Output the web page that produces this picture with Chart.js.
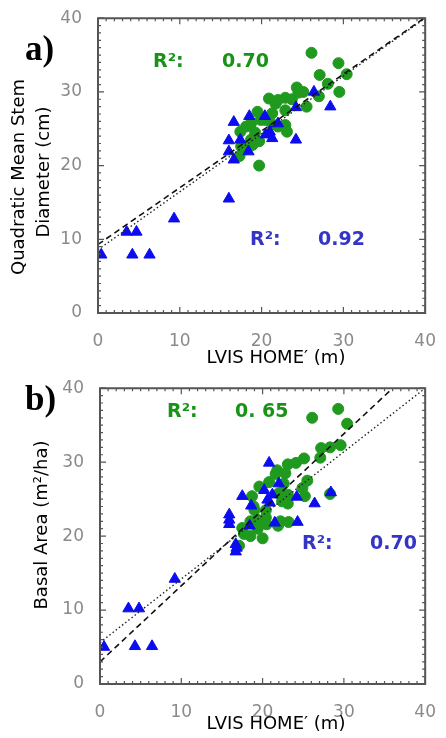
<!DOCTYPE html>
<html>
<head>
<meta charset="utf-8">
<script src="https://cdn.jsdelivr.net/npm/chart.js@4.4.0/dist/chart.umd.min.js"></script>
<style>
  body { margin: 0; background: #fff; }
  .panel { position: absolute; left: 0; width: 446px; }
</style>
</head>
<body>
<div class="panel" style="top:0;height:370px"><canvas id="chartA" width="446" height="370"></canvas></div>
<div class="panel" style="top:370px;height:368px"><canvas id="chartB" width="446" height="368"></canvas></div>
<script>
// panel a) quadratic mean stem diameter vs LVIS HOME'
const aBlueX = [0.4, 3.5, 4.7, 4.2, 6.3, 9.3, 16.0, 16.0, 16.0, 16.6, 16.6, 17.4, 18.5, 18.4, 20.4, 20.5, 21.0, 21.3, 22.0, 24.2, 24.2, 26.4, 28.4];
const aBlueY = [7.9, 11.0, 11.0, 7.9, 7.9, 12.8, 15.5, 23.4, 21.9, 25.9, 20.8, 23.5, 26.7, 21.9, 26.7, 24.2, 24.6, 23.7, 25.7, 27.9, 23.5, 30.0, 28.0];
const aGreenX = [26.1, 29.4, 27.1, 30.4, 28.1, 29.5, 27.0, 24.3, 25.1, 25.5, 22.9, 20.9, 21.7, 22.0, 22.9, 21.3, 19.5, 19.9, 18.7, 18.1, 17.4, 19.2, 22.0, 22.9, 23.1, 18.7, 19.7, 18.9, 17.5, 18.1, 17.3, 19.7, 21.3, 20.4, 23.7, 24.5];
const aGreenY = [35.3, 33.9, 32.3, 32.4, 31.1, 30.0, 29.4, 30.6, 30.0, 28.0, 29.2, 29.1, 28.4, 28.9, 27.5, 27.1, 27.3, 26.2, 25.7, 25.3, 24.6, 24.5, 25.3, 25.5, 24.6, 23.5, 23.3, 22.8, 22.6, 22.3, 21.3, 20.0, 25.6, 26.2, 29.0, 29.9];
const aDashX = [0, 40], aDashY = [9.3, 40.1];
const aDotX = [0, 40], aDotY = [8.6, 40.0];

// panel b) basal area vs LVIS HOME'
const bBlueX = [0.5, 3.5, 4.8, 4.3, 6.4, 9.2, 15.9, 15.9, 15.9, 16.7, 16.7, 16.8, 17.5, 18.6, 18.4, 20.8, 20.2, 20.6, 21.2, 20.9, 22.0, 21.5, 24.3, 24.2, 26.4, 28.4];
const bBlueY = [5.0, 10.2, 10.2, 5.1, 5.1, 14.2, 22.9, 22.2, 21.6, 18.9, 17.9, 18.4, 25.4, 24.1, 21.4, 29.9, 26.2, 24.9, 25.6, 24.5, 27.1, 21.8, 21.9, 25.3, 24.4, 25.9];
const bGreenX = [29.3, 26.1, 30.4, 29.6, 28.3, 27.2, 27.1, 25.1, 24.1, 23.1, 21.8, 21.6, 22.8, 20.8, 19.6, 22.6, 25.5, 24.9, 25.2, 22.0, 23.1, 22.4, 23.1, 18.7, 18.9, 18.5, 19.4, 20.4, 20.5, 22.2, 21.9, 23.2, 19.4, 17.5, 17.7, 18.5, 20.0, 17.1, 19.0, 20.4, 28.3];
const bGreenY = [37.2, 36.0, 35.2, 32.3, 32.0, 31.9, 30.6, 30.5, 29.9, 29.7, 28.9, 28.4, 28.5, 27.3, 26.7, 27.1, 27.5, 26.5, 25.4, 25.8, 25.6, 24.7, 24.4, 25.4, 24.0, 22.0, 22.2, 22.5, 21.6, 22.0, 21.4, 21.9, 21.0, 21.1, 20.3, 20.0, 19.7, 18.7, 23.5, 23.5, 25.7];
const bDashX = [0, 36], bDashY = [3.0, 40.0];
const bDotX = [0, 40], bDotY = [5.6, 40.0];

const axisMin = 0, axisMax = 40, axisStep = 10;

const BLUE = '#0c0cf0';
const GREEN = '#1f9a1f';
const BLUE_TXT = '#3434c8';
const GREEN_TXT = '#189318';

function pts(xs, ys) {
  return xs.map((x, i) => ({ x: x, y: ys[i] }));
}

// box with inward ticks on all four sides, then the free text
function decorPlugin(items) {
  return {
    id: 'decor',
    afterDraw(chart) {
      const ctx = chart.ctx;
      const sx = chart.scales.x, sy = chart.scales.y;
      const left = sx.left, right = sx.right;
      const top = sy.top, bottom = sy.bottom;
      ctx.save();
      ctx.setLineDash([]);
      ctx.globalAlpha = 1;
      ctx.strokeStyle = '#555';
      ctx.lineWidth = 1.2;
      for (let v = axisMin; v <= axisMax; v++) {
        const len = v % axisStep === 0 ? 6 : 3;
        const px = sx.getPixelForValue(v);
        const py = sy.getPixelForValue(v);
        ctx.beginPath();
        ctx.moveTo(px, bottom); ctx.lineTo(px, bottom - len);
        ctx.moveTo(px, top); ctx.lineTo(px, top + len);
        ctx.moveTo(left, py); ctx.lineTo(left + len, py);
        ctx.moveTo(right, py); ctx.lineTo(right - len, py);
        ctx.stroke();
      }
      ctx.lineWidth = 2;
      ctx.beginPath();
      ctx.rect(left, top, right - left, bottom - top);
      ctx.stroke();
      ctx.restore();

      items.forEach(it => {
        ctx.save();
        ctx.translate(it.x, it.y);
        if (it.rot) ctx.rotate(it.rot);
        ctx.font = it.font;
        ctx.fillStyle = it.color;
        ctx.textAlign = it.align || 'left';
        ctx.textBaseline = it.base || 'alphabetic';
        ctx.fillText(it.text, 0, 0);
        ctx.restore();
      });
    }
  };
}

function makeChart(id, d, box, notes) {
  const tickFont = { family: 'DejaVu Sans', size: 17 };
  return new Chart(document.getElementById(id), {
    type: 'scatter',
    data: {
      datasets: [
        { data: pts(d.dashX, d.dashY), showLine: true, pointRadius: 0,
          borderColor: '#111', borderWidth: 1.6, borderDash: [6, 4] },
        { data: pts(d.dotX, d.dotY), showLine: true, pointRadius: 0,
          borderColor: '#222', borderWidth: 1.4, borderDash: [1.5, 2.5] },
        { data: pts(d.blueX, d.blueY), pointStyle: 'triangle', pointRadius: 6.5,
          backgroundColor: BLUE, borderColor: BLUE, borderWidth: 1 },
        { data: pts(d.greenX, d.greenY), pointStyle: 'circle', pointRadius: 5.5,
          backgroundColor: GREEN, borderColor: GREEN, borderWidth: 1 }
      ]
    },
    options: {
      responsive: false,
      animation: false,
      layout: { padding: { top: box.top, right: box.right, left: 0, bottom: 0 } },
      plugins: { legend: { display: false }, tooltip: { enabled: false } },
      scales: {
        x: {
          type: 'linear', min: axisMin, max: axisMax,
          ticks: { stepSize: axisStep, color: '#8a8a8a', font: tickFont, padding: 10 },
          grid: { display: false }, border: { display: false },
          afterFit(s) { s.height = box.xh; }
        },
        y: {
          type: 'linear', min: axisMin, max: axisMax,
          ticks: { stepSize: axisStep, color: '#8a8a8a', font: tickFont, padding: 8 },
          grid: { display: false }, border: { display: false },
          afterFit(s) { s.width = box.yw; }
        }
      }
    },
    plugins: [decorPlugin(notes)]
  });
}

const labelFont = '18px "DejaVu Sans"';
const rFont = 'bold 19px "DejaVu Sans"';
const panelFont = 'bold 35px "Liberation Serif"';
const UP = -Math.PI / 2;

makeChart('chartA',
  { dashX: aDashX, dashY: aDashY, dotX: aDotX, dotY: aDotY,
    blueX: aBlueX, blueY: aBlueY, greenX: aGreenX, greenY: aGreenY },
  { top: 13, right: 13, xh: 57, yw: 98 },
  [
    { text: 'a)', x: 25, y: 60, font: panelFont, color: '#000' },
    { text: 'Quadratic Mean Stem', x: 19, y: 177, rot: UP, align: 'center', base: 'middle', font: labelFont, color: '#000' },
    { text: 'Diameter (cm)', x: 44, y: 172, rot: UP, align: 'center', base: 'middle', font: labelFont, color: '#000' },
    { text: 'LVIS HOME\u2032 (m)', x: 276, y: 358, align: 'center', base: 'middle', font: labelFont, color: '#000' },
    { text: 'R\u00b2:', x: 153, y: 67, font: rFont, color: GREEN_TXT },
    { text: '0.70', x: 222, y: 67, font: rFont, color: GREEN_TXT },
    { text: 'R\u00b2:', x: 250, y: 245, font: rFont, color: BLUE_TXT },
    { text: '0.92', x: 318, y: 245, font: rFont, color: BLUE_TXT }
  ]);

makeChart('chartB',
  { dashX: bDashX, dashY: bDashY, dotX: bDotX, dotY: bDotY,
    blueX: bBlueX, blueY: bBlueY, greenX: bGreenX, greenY: bGreenY },
  { top: 13, right: 10, xh: 54, yw: 100 },
  [
    { text: 'b)', x: 25, y: 40, font: panelFont, color: '#000' },
    { text: 'Basal Area (m\u00b2/ha)', x: 42, y: 155, rot: UP, align: 'center', base: 'middle', font: labelFont, color: '#000' },
    { text: 'LVIS HOME\u2032 (m)', x: 276, y: 354, align: 'center', base: 'middle', font: labelFont, color: '#000' },
    { text: 'R\u00b2:', x: 167, y: 47, font: rFont, color: GREEN_TXT },
    { text: '0. 65', x: 235, y: 47, font: rFont, color: GREEN_TXT },
    { text: 'R\u00b2:', x: 302, y: 179, font: rFont, color: BLUE_TXT },
    { text: '0.70', x: 370, y: 179, font: rFont, color: BLUE_TXT }
  ]);
</script>
</body>
</html>
